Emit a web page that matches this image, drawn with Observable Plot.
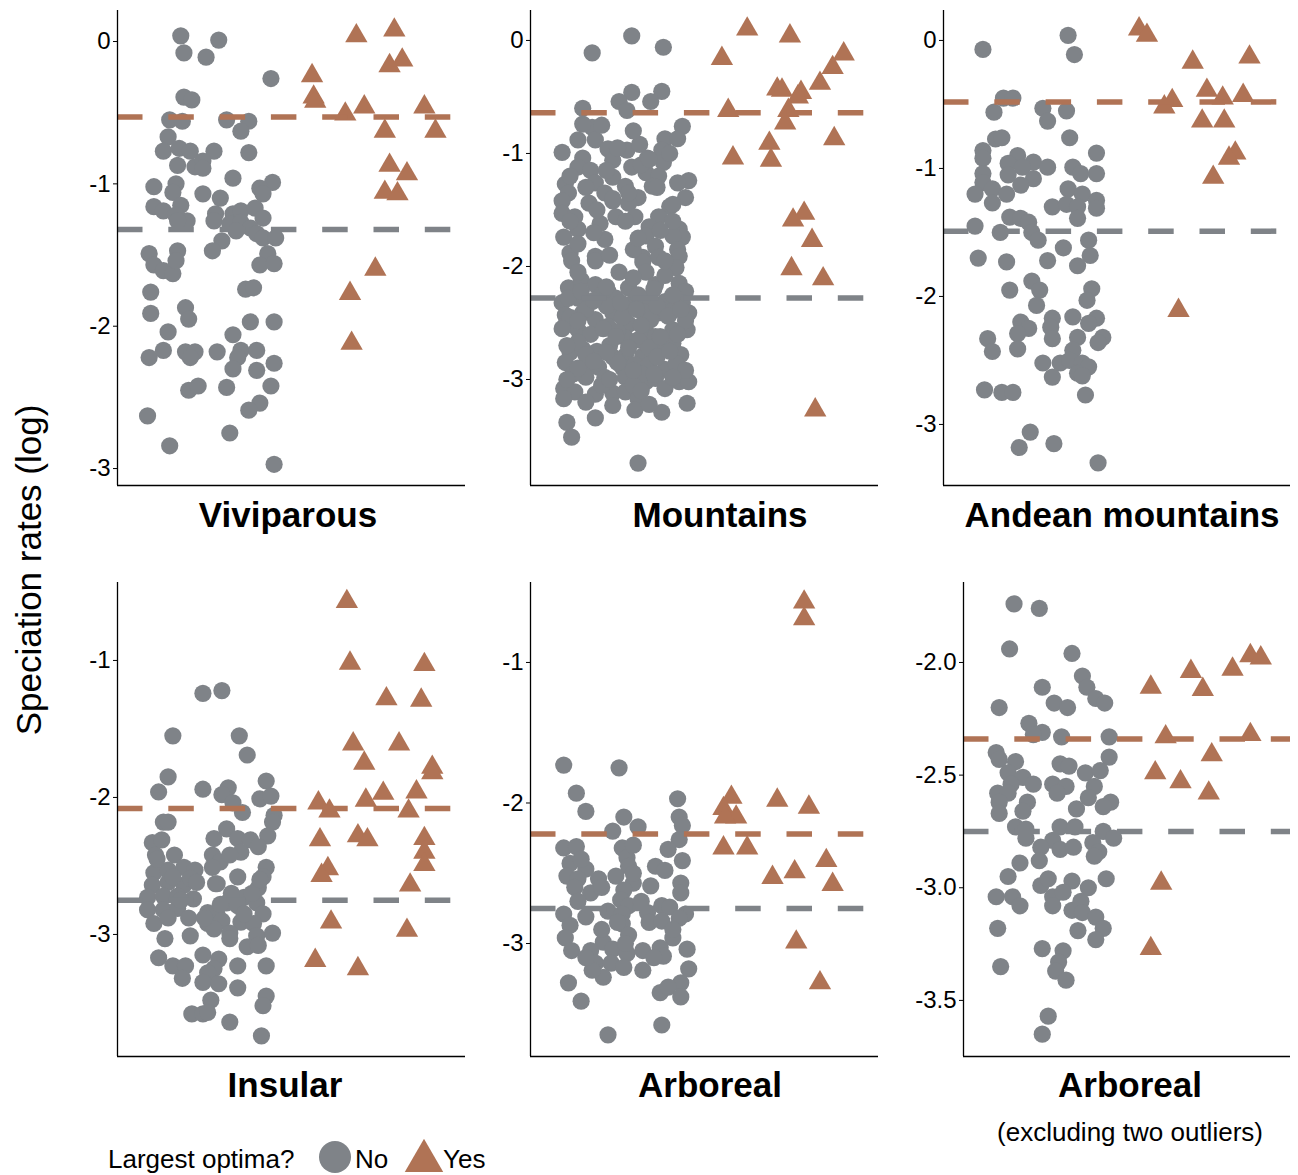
<!DOCTYPE html>
<html><head><meta charset="utf-8">
<script src="https://cdn.jsdelivr.net/npm/d3@7"></script>
<script src="https://cdn.jsdelivr.net/npm/@observablehq/plot@0.6"></script>
<style>
body{margin:0;background:#fff;font-family:"Liberation Sans",Arial,Helvetica,sans-serif;}
#root{position:relative;width:1298px;height:1175px;overflow:hidden;background:#fff;}
.panel{position:absolute;}
.title{position:absolute;font-weight:bold;font-size:35px;line-height:1;transform:translate(-50%,-50%);white-space:nowrap;color:#000;}
.sub{position:absolute;font-size:26px;line-height:1;transform:translate(-50%,-50%);white-space:nowrap;color:#000;}
.ylab{position:absolute;font-size:35px;line-height:1;white-space:nowrap;transform:translate(-50%,-50%) rotate(-90deg);color:#000;}
.leg{position:absolute;font-size:26px;line-height:1;white-space:nowrap;transform:translateY(-50%);color:#000;}
</style></head><body><div id="root"></div>
<script>
// ---------- data: [jitter offset within group, log speciation rate] ----------
const vivNo = [[-0.20,0.04],[0.04,0.01],[-0.18,-0.08],[-0.04,-0.11],[0.37,-0.26],[-0.18,-0.39],[-0.13,-0.41],[-0.27,-0.55],[-0.19,-0.56],[0.09,-0.55],[0.23,-0.56],[0.18,-0.63],[-0.28,-0.67],[-0.31,-0.77],[-0.21,-0.75],[-0.14,-0.77],[0.01,-0.77],[0.23,-0.78],[-0.22,-0.87],[-0.11,-0.88],[-0.06,-0.84],[-0.06,-0.89],[0.13,-0.96],[-0.37,-1.02],[-0.23,-1.00],[-0.25,-1.06],[-0.06,-1.07],[0.05,-1.10],[0.38,-0.99],[0.30,-1.03],[0.32,-1.07],[-0.37,-1.16],[-0.31,-1.19],[-0.20,-1.15],[-0.23,-1.22],[-0.16,-1.26],[-0.22,-1.26],[0.02,-1.21],[0.01,-1.26],[0.13,-1.21],[0.18,-1.19],[0.27,-1.17],[0.32,-1.24],[0.11,-1.28],[0.18,-1.27],[0.24,-1.31],[0.15,-1.33],[0.06,-1.40],[0.28,-1.35],[0.32,-1.38],[0.40,-1.38],[0.00,-1.47],[-0.40,-1.49],[-0.37,-1.57],[-0.31,-1.61],[-0.25,-1.63],[-0.22,-1.47],[-0.23,-1.54],[0.35,-1.49],[0.30,-1.57],[0.39,-1.56],[0.21,-1.74],[0.26,-1.73],[-0.39,-1.76],[-0.39,-1.91],[-0.17,-1.87],[-0.15,-1.95],[0.24,-1.97],[0.39,-1.97],[-0.28,-2.04],[0.13,-2.06],[-0.40,-2.22],[-0.31,-2.17],[-0.17,-2.18],[-0.11,-2.18],[-0.14,-2.22],[0.03,-2.18],[0.18,-2.17],[0.16,-2.22],[0.28,-2.17],[0.39,-2.26],[0.13,-2.30],[0.28,-2.31],[-0.15,-2.45],[-0.09,-2.42],[0.09,-2.43],[0.37,-2.42],[0.30,-2.54],[0.23,-2.59],[-0.41,-2.63],[0.11,-2.75],[-0.27,-2.84],[0.39,-2.97]];
const vivYes = [[-0.09,0.04],[0.15,0.08],[0.12,-0.17],[0.20,-0.13],[-0.37,-0.24],[-0.36,-0.39],[-0.35,-0.42],[-0.16,-0.51],[-0.04,-0.46],[0.34,-0.46],[0.09,-0.63],[0.41,-0.63],[0.12,-0.87],[0.23,-0.93],[0.09,-1.06],[0.17,-1.07],[0.03,-1.60],[-0.13,-1.77],[-0.12,-2.12]];
const vivMeans = [-1.32, -0.53];

const mtnNo = [[0.04,0.04],[-0.21,-0.11],[0.24,-0.06],[0.04,-0.46],[0.23,-0.45],[-0.04,-0.54],[0.01,-0.62],[0.16,-0.54],[-0.27,-0.60],[0.36,-0.76],[-0.21,-0.77],[-0.27,-0.74],[0.25,-0.87],[0.33,-0.87],[-0.30,-0.88],[-0.40,-0.99],[-0.19,-0.88],[-0.11,-0.96],[0.01,-0.97],[0.09,-0.92],[0.14,-1.04],[0.23,-0.97],[-0.27,-1.04],[-0.08,-1.06],[0.04,-1.12],[0.24,-1.08],[-0.30,-1.12],[-0.22,-1.15],[-0.08,-1.21],[0.13,-1.17],[0.21,-1.20],[0.40,-1.24],[0.33,-1.26],[-0.38,-1.27],[-0.19,-1.26],[0.00,-1.29],[0.17,-1.29],[-0.36,-1.35],[-0.13,-1.35],[0.08,-1.39],[0.38,-1.39],[-0.40,-1.42],[-0.23,-1.44],[-0.08,-1.42],[0.02,-1.44],[0.28,-1.47],[-0.40,-1.53],[-0.32,-1.56],[-0.16,-1.62],[-0.06,-1.56],[0.06,-1.56],[0.21,-1.56],[0.15,-1.65],[-0.30,-1.67],[-0.39,-1.74],[-0.13,-1.76],[0.13,-1.73],[0.34,-1.67],[0.36,-1.74],[0.30,-1.73],[-0.35,-1.88],[-0.19,-1.91],[0.11,-1.92],[0.19,-1.82],[0.33,-1.85],[0.34,-1.91],
[-0.34,-1.95],[-0.19,-1.95],[0.11,-1.96],[0.21,-1.92],[0.32,-2.01],[-0.04,-2.05],[0.13,-2.05],[-0.36,-2.19],[-0.28,-2.12],[-0.19,-2.16],[-0.11,-2.22],[0.02,-2.19],[0.19,-2.16],[0.34,-2.15],[0.38,-2.22],[-0.40,-2.32],[-0.30,-2.28],[-0.21,-2.31],[-0.06,-2.28],[0.06,-2.30],[0.15,-2.28],[0.25,-2.31],[0.36,-2.32],[-0.38,-2.43],[-0.27,-2.41],[-0.19,-2.47],[-0.08,-2.41],[0.00,-2.40],[0.11,-2.40],[0.21,-2.41],[0.30,-2.39],[0.40,-2.41],[-0.38,-2.52],[-0.30,-2.56],[-0.11,-2.53],[0.02,-2.51],[0.13,-2.58],[0.19,-2.62],[0.30,-2.56],[0.39,-2.56],[0.00,-2.63],[0.08,-2.65],[-0.35,-2.76],[-0.27,-2.73],[-0.18,-2.75],[-0.08,-2.80],[0.00,-2.79],[0.11,-2.79],[0.23,-2.72],[-0.25,-2.88],[-0.17,-2.89],[-0.02,-2.89],[0.06,-2.87],[0.15,-2.87],[0.25,-2.91],[-0.25,-2.98],[-0.13,-2.98],[0.00,-2.98],[0.13,-3.02],[0.19,-2.99],[0.34,-3.02],[0.40,-3.02],[-0.39,-3.08],[-0.32,-3.11],[-0.19,-3.13],[-0.08,-3.12],[0.00,-3.11],[0.08,-3.17],[-0.39,-3.17],[-0.08,-3.23],[0.06,-3.27],[0.23,-3.29],[0.39,-3.21],[-0.19,-3.34],[-0.37,-3.38],[-0.34,-3.51],[0.08,-3.74],
[-0.30,-2.05],[0.05,-2.10],[0.25,-2.08],[-0.15,-2.25],[0.08,-2.25],[0.30,-2.25],[-0.35,-2.45],[-0.02,-2.45],[0.16,-2.47],[-0.22,-2.60],[-0.05,-2.58],[0.30,-2.68],[-0.30,-2.67],[0.15,-2.72],[-0.10,-2.70],[0.35,-2.78],[-0.38,-2.85],[-0.05,-2.85],[0.32,-2.86],[-0.33,-2.95],[0.10,-2.95],[-0.15,-3.05],[0.25,-3.08],[0.05,-3.05],[-0.25,-3.20],[0.15,-3.22],[-0.12,-2.35],[0.20,-2.35],[-0.25,-2.38],[0.38,-2.48],[-0.18,-1.50],[0.00,-1.60],[0.30,-1.60],[-0.25,-1.30],[0.10,-1.10],[-0.05,-0.95],[0.05,-0.80],[-0.15,-0.75],[0.28,-1.00],[-0.35,-1.60],[0.05,-1.85],[-0.10,-1.90],[0.25,-1.95],
[-0.36,-2.28],[-0.28,-2.22],[-0.20,-2.30],[-0.12,-2.18],[-0.03,-2.32],[0.07,-2.38],[0.18,-2.20],[0.27,-2.44],[0.35,-2.38],[-0.40,-2.55],[-0.30,-2.48],[-0.14,-2.55],[-0.06,-2.62],[0.10,-2.52],[0.22,-2.62],[0.33,-2.60],[-0.37,-2.70],[-0.25,-2.78],[-0.12,-2.76],[0.02,-2.72],[0.20,-2.80],[0.28,-2.75],[-0.30,-2.90],[-0.20,-2.84],[0.05,-2.92],[0.18,-2.95],[0.38,-2.92],[-0.37,-3.00],[-0.10,-3.00],[0.10,-3.10],[0.30,-2.98],[-0.30,-1.80],[-0.20,-1.70],[0.08,-1.75],[0.22,-1.68],[-0.08,-1.40],[0.20,-1.30],[-0.35,-1.20],[0.02,-1.35],[0.30,-1.45],[-0.12,-1.15],[0.15,-1.05]];
const mtnYes = [[-0.23,0.10],[0.04,0.04],[-0.39,-0.16],[0.38,-0.12],[0.31,-0.24],[0.23,-0.38],[-0.04,-0.43],[-0.01,-0.44],[0.11,-0.46],[0.09,-0.50],[0.03,-0.62],[-0.35,-0.62],[0.01,-0.73],[0.32,-0.87],[-0.09,-0.91],[-0.32,-1.04],[-0.08,-1.06],[0.13,-1.53],[0.06,-1.59],[0.18,-1.77],[0.05,-2.02],[0.25,-2.11],[0.20,-3.27]];
const mtnMeans = [-2.28, -0.64];

const andNo = [[0.19,0.04],[-0.35,-0.07],[0.23,-0.11],[-0.22,-0.45],[-0.16,-0.45],[-0.28,-0.56],[0.03,-0.53],[0.06,-0.63],[0.18,-0.55],[-0.27,-0.77],[-0.23,-0.76],[0.20,-0.76],[-0.35,-0.86],[-0.35,-0.92],[-0.13,-0.90],[-0.19,-0.96],[-0.03,-0.95],[0.06,-0.99],[-0.10,-0.99],[0.37,-0.88],[-0.35,-1.04],[-0.19,-1.05],[-0.03,-1.08],[0.22,-0.99],[0.27,-1.04],[0.37,-1.04],[-0.35,-1.11],[-0.11,-1.13],[-0.40,-1.20],[-0.29,-1.16],[-0.20,-1.20],[0.19,-1.16],[0.28,-1.20],[0.37,-1.25],[-0.29,-1.27],[0.09,-1.30],[0.18,-1.28],[0.25,-1.30],[0.37,-1.31],[0.25,-1.39],[-0.18,-1.38],[-0.11,-1.39],[-0.06,-1.42],[-0.40,-1.45],[-0.24,-1.50],[-0.04,-1.50],[0.00,-1.56],[0.16,-1.62],[0.32,-1.56],[0.33,-1.68],[-0.38,-1.70],[-0.20,-1.73],[0.06,-1.72],[0.25,-1.76],[-0.04,-1.88],[0.01,-1.95],[-0.18,-1.95],[0.34,-1.94],[0.31,-2.03],[-0.01,-2.07],[-0.11,-2.20],[0.09,-2.17],[0.22,-2.16],[0.37,-2.17],[-0.06,-2.25],[0.08,-2.24],[0.32,-2.21],[-0.13,-2.29],[0.09,-2.33],[0.25,-2.32],[0.41,-2.32],[-0.32,-2.33],[0.38,-2.36],[-0.29,-2.43],[-0.13,-2.41],[0.22,-2.42],[0.03,-2.52],[0.14,-2.52],[0.20,-2.50],[0.28,-2.52],[0.32,-2.55],[0.25,-2.60],[0.28,-2.62],[0.09,-2.63],[-0.34,-2.73],[-0.23,-2.75],[-0.16,-2.75],[0.30,-2.77],[-0.05,-3.06],[-0.12,-3.18],[0.10,-3.15],[0.38,-3.30]];
const andYes = [[-0.36,0.09],[-0.31,0.04],[-0.02,-0.17],[0.34,-0.13],[0.07,-0.39],[0.17,-0.45],[0.30,-0.43],[-0.15,-0.47],[-0.20,-0.52],[0.04,-0.63],[0.18,-0.63],[0.25,-0.88],[0.21,-0.92],[0.11,-1.07],[-0.11,-2.11]];
const andMeans = [-1.49, -0.48];

const insNo = [[-0.06,-1.24],[0.06,-1.22],[-0.25,-1.55],[0.17,-1.55],[0.22,-1.69],[-0.28,-1.85],[-0.34,-1.96],[-0.06,-1.94],[0.10,-1.93],[0.06,-1.98],[0.34,-1.88],[0.30,-2.01],[0.37,-1.99],[0.13,-2.04],[0.19,-2.11],[0.39,-2.13],[-0.31,-2.18],[-0.28,-2.18],[0.38,-2.18],[0.09,-2.23],[-0.38,-2.33],[-0.32,-2.31],[0.01,-2.30],[0.35,-2.28],[0.16,-2.30],[0.24,-2.31],[0.29,-2.36],[-0.36,-2.42],[-0.24,-2.42],[0.00,-2.42],[0.18,-2.40],[0.05,-2.47],[0.11,-2.42],[0.34,-2.51],[-0.37,-2.55],[-0.28,-2.53],[-0.18,-2.51],[-0.11,-2.53],[0.00,-2.51],[0.02,-2.63],[0.32,-2.58],[0.16,-2.58],[0.29,-2.66],[-0.38,-2.64],[-0.28,-2.62],[-0.18,-2.64],[-0.14,-2.59],[0.03,-2.63],[-0.41,-2.73],[-0.31,-2.72],[-0.22,-2.72],[-0.12,-2.74],[0.09,-2.77],[0.20,-2.73],[0.28,-2.77],[0.16,-2.79],[-0.41,-2.82],[-0.31,-2.82],[-0.22,-2.81],[-0.03,-2.84],[0.03,-2.86],[0.32,-2.85],[-0.37,-2.92],[-0.28,-2.88],[-0.15,-2.88],[-0.03,-2.92],[0.06,-2.90],[0.18,-2.91],[0.26,-2.92],[0.01,-2.96],[0.11,-2.99],[-0.30,-3.03],[-0.14,-3.01],[0.11,-3.03],[0.28,-3.01],[0.38,-2.99],[0.22,-3.09],[0.29,-3.08],[-0.34,-3.17],[-0.06,-3.15],[0.04,-3.18],[-0.25,-3.23],[-0.17,-3.23],[0.16,-3.23],[0.34,-3.23],[0.01,-3.25],[-0.03,-3.28],[-0.19,-3.32],[-0.06,-3.35],[0.04,-3.36],[0.16,-3.39],[0.34,-3.45],[-0.01,-3.48],[0.32,-3.52],[-0.13,-3.58],[-0.06,-3.58],[-0.03,-3.57],[0.11,-3.64],[0.31,-3.74],
[-0.35,-2.45],[-0.25,-2.58],[-0.20,-2.75],[-0.10,-2.62],[0.05,-2.78],[0.25,-2.70],[0.30,-2.60],[0.12,-2.70],[-0.05,-2.88],[0.20,-2.85]];
const insYes = [[-0.15,-0.57],[-0.13,-1.02],[0.34,-1.03],[0.10,-1.28],[0.32,-1.29],[-0.11,-1.61],[0.18,-1.61],[-0.04,-1.75],[0.39,-1.78],[0.39,-1.82],[0.08,-1.97],[0.29,-1.96],[-0.33,-2.04],[-0.03,-2.02],[-0.26,-2.10],[0.24,-2.10],[-0.32,-2.31],[-0.08,-2.28],[-0.02,-2.31],[0.34,-2.30],[0.34,-2.40],[0.34,-2.49],[-0.27,-2.52],[-0.31,-2.57],[0.25,-2.64],[-0.25,-2.91],[0.23,-2.97],[-0.35,-3.19],[-0.08,-3.25]];
const insMeans = [-2.75, -2.08];

const arbNo = [[-0.39,-1.73],[-0.04,-1.75],[-0.31,-1.93],[0.33,-1.97],[-0.25,-2.06],[-0.01,-2.10],[0.34,-2.10],[0.08,-2.17],[-0.08,-2.20],[0.36,-2.16],[0.34,-2.26],[-0.39,-2.32],[-0.31,-2.31],[-0.02,-2.32],[0.27,-2.33],[0.01,-2.39],[0.36,-2.41],[-0.35,-2.43],[-0.25,-2.47],[0.02,-2.45],[0.19,-2.45],[0.25,-2.48],[-0.37,-2.52],[-0.30,-2.54],[-0.17,-2.54],[-0.06,-2.52],[0.05,-2.57],[0.35,-2.57],[-0.32,-2.60],[-0.22,-2.64],[-0.01,-2.62],[0.16,-2.59],[0.35,-2.64],[-0.03,-2.69],[0.02,-2.73],[-0.11,-2.77],[0.23,-2.73],[0.28,-2.74],[-0.39,-2.79],[-0.25,-2.81],[-0.02,-2.79],[0.14,-2.78],[0.38,-2.79],[-0.35,-2.87],[-0.02,-2.86],[0.15,-2.85],[0.23,-2.84],[0.34,-2.82],[-0.38,-2.96],[0.02,-2.94],[0.30,-2.96],[-0.14,-2.99],[-0.34,-3.05],[-0.22,-3.05],[-0.08,-3.04],[0.01,-3.07],[0.11,-3.05],[0.22,-3.03],[0.24,-3.09],[0.39,-3.04],[-0.19,-3.14],[-0.09,-3.14],[-0.01,-3.17],[0.11,-3.19],[0.40,-3.18],[-0.14,-3.24],[-0.21,-3.19],[-0.36,-3.28],[0.35,-3.28],[0.22,-3.35],[0.27,-3.31],[0.35,-3.38],[-0.28,-3.41],[0.23,-3.58],[-0.11,-3.65],
[-0.28,-2.40],[-0.15,-2.60],[0.05,-2.50],[0.10,-2.70],[-0.05,-2.85],[0.00,-3.00],[-0.15,-2.90],[0.30,-2.90],[-0.30,-2.70],[0.18,-3.10],[-0.25,-3.10],[0.05,-2.30]];
const arbYes = [[0.13,-0.57],[0.13,-0.69],[-0.33,-1.96],[-0.38,-2.04],[-0.30,-2.10],[-0.37,-2.10],[-0.04,-1.98],[0.16,-2.03],[-0.38,-2.32],[-0.23,-2.32],[0.27,-2.41],[0.07,-2.49],[-0.07,-2.53],[0.31,-2.58],[0.08,-2.99],[0.23,-3.28]];
const arbMeans = [-2.75, -2.22];

const arb2No = [[-0.26,-1.74],[-0.09,-1.76],[-0.29,-1.94],[0.13,-1.96],[0.20,-2.06],[0.23,-2.11],[-0.07,-2.11],[-0.36,-2.20],[0.01,-2.18],[0.10,-2.20],[0.29,-2.16],[0.35,-2.18],[-0.16,-2.27],[-0.07,-2.31],[-0.13,-2.32],[0.06,-2.33],[0.38,-2.33],[-0.38,-2.40],[-0.36,-2.43],[-0.25,-2.44],[0.38,-2.42],[0.05,-2.45],[0.11,-2.46],[0.22,-2.49],[0.32,-2.48],[-0.30,-2.49],[-0.20,-2.51],[-0.13,-2.54],[-0.28,-2.54],[0.00,-2.54],[0.09,-2.55],[0.28,-2.55],[-0.37,-2.58],[-0.30,-2.58],[0.03,-2.58],[0.24,-2.60],[-0.36,-2.62],[-0.17,-2.62],[0.39,-2.62],[0.34,-2.64],[-0.20,-2.66],[-0.36,-2.67],[0.16,-2.65],[-0.25,-2.73],[-0.18,-2.74],[0.05,-2.73],[0.15,-2.73],[0.34,-2.75],[-0.18,-2.78],[0.00,-2.79],[-0.08,-2.82],[0.05,-2.83],[0.14,-2.82],[0.27,-2.80],[0.31,-2.84],[0.41,-2.78],[-0.09,-2.88],[0.28,-2.86],[-0.22,-2.89],[-0.30,-2.95],[0.36,-2.96],[-0.08,-2.99],[-0.03,-2.96],[0.13,-2.97],[0.24,-3.00],[-0.38,-3.04],[-0.27,-3.04],[-0.22,-3.08],[0.00,-3.04],[0.07,-3.02],[0.00,-3.08],[0.13,-3.10],[0.19,-3.06],[0.20,-3.11],[0.29,-3.13],[0.34,-3.18],[-0.37,-3.18],[0.17,-3.19],[0.29,-3.23],[-0.07,-3.27],[0.07,-3.28],[0.04,-3.33],[0.02,-3.37],[0.09,-3.41],[-0.35,-3.35],[-0.03,-3.57],[-0.07,-3.65]];
const arb2Yes = [[-0.34,-2.11],[-0.07,-2.04],[0.01,-2.12],[0.21,-2.03],[0.33,-1.97],[0.40,-1.98],[0.33,-2.32],[-0.24,-2.33],[-0.31,-2.49],[-0.14,-2.53],[0.07,-2.41],[0.05,-2.58],[-0.27,-2.98],[-0.34,-3.27]];
const arb2Means = [-2.75, -2.34];

const ticks01 = [0, -1, -2, -3];
const tickLabels01 = ["0", "-1", "-2", "-3"];
const ticks45 = [-1, -2, -3];
const tickLabels45 = ["-1", "-2", "-3"];
const ticks6 = [-2, -2.5, -3, -3.5];
const tickLabels6 = ["-2.0", "-2.5", "-3.0", "-3.5"];

const titles = ["Viviparous", "Mountains", "Andean mountains", "Insular", "Arboreal", "Arboreal"];
const subtitle6 = "(excluding two outliers)";
const groupNames = ["No", "Yes"];
const legendTitle = "Largest optima?";
const yTitle = "Speciation rates (log)";

// ---------- styling / layout ----------
const GRAY = "#7f8388", ORANGE = "#b07355";
const panels = [
  {no: vivNo, yes: vivYes, means: vivMeans, ticks: ticks01, labels: tickLabels01, frame: [117, 465, 10, 485], domain: [-3.119, 0.218], title: titles[0], tx: 288, ty: 514},
  {no: mtnNo, yes: mtnYes, means: mtnMeans, ticks: ticks01, labels: tickLabels01, frame: [530, 878, 10, 485], domain: [-3.938, 0.265], title: titles[1], tx: 720, ty: 514},
  {no: andNo, yes: andYes, means: andMeans, ticks: ticks01, labels: tickLabels01, frame: [943, 1290, 10, 485], domain: [-3.477, 0.234], title: titles[2], tx: 1122, ty: 514},
  {no: insNo, yes: insYes, means: insMeans, ticks: ticks45, labels: tickLabels45, frame: [117, 465, 582, 1056], domain: [-3.891, -0.431], title: titles[3], tx: 285, ty: 1084},
  {no: arbNo, yes: arbYes, means: arbMeans, ticks: ticks45, labels: tickLabels45, frame: [530, 878, 582, 1056], domain: [-3.804, -0.431], title: titles[4], tx: 710, ty: 1084},
  {no: arb2No, yes: arb2Yes, means: arb2Means, ticks: ticks6, labels: tickLabels6, frame: [963, 1290, 582, 1056], domain: [-3.749, -1.645], title: titles[5], tx: 1130, ty: 1084}
];

const root = document.getElementById("root");
const ML = 70, MR = 8, MT = 12, MB = 12;

for (const p of panels) {
  const [l, r, t, b] = p.frame;
  const chart = Plot.plot({
    width: ML + (r - l) + MR,
    height: MT + (b - t) + MB,
    marginLeft: ML, marginRight: MR, marginTop: MT, marginBottom: MB,
    style: {fontFamily: "'Liberation Sans', Arial, Helvetica, sans-serif", fontSize: "24px", color: "#000", background: "transparent", overflow: "visible"},
    x: {domain: [0.4, 2.6], axis: null},
    y: {domain: p.domain, axis: null},
    marks: [
      Plot.dot(p.no, {x: d => 1 + d[0], y: d => d[1], r: 8.6, fill: GRAY, stroke: "none"}),
      Plot.dot(p.yes, {x: d => 2 + d[0], y: d => d[1], r: 8.3, symbol: "triangle", fill: ORANGE, stroke: "none"}),
      Plot.ruleY([p.means[0]], {stroke: GRAY, strokeWidth: 5.5, strokeDasharray: "25.5,25.8"}),
      Plot.ruleY([p.means[1]], {stroke: ORANGE, strokeWidth: 5.5, strokeDasharray: "25.5,25.8"}),
      Plot.ruleX([0.4], {stroke: "#000", strokeWidth: 1.3}),
      Plot.ruleY([p.domain[0]], {stroke: "#000", strokeWidth: 1.3}),
      Plot.axisY(p.ticks, {tickFormat: (d) => p.labels[p.ticks.indexOf(d)], tickSize: 4, tickPadding: 3, fontSize: 24, label: null, stroke: "#000"})
    ]
  });
  chart.classList.add("panel");
  chart.style.left = (l - ML) + "px";
  chart.style.top = (t - MT) + "px";
  root.appendChild(chart);

  const title = document.createElement("div");
  title.className = "title";
  title.textContent = p.title;
  title.style.left = p.tx + "px";
  title.style.top = p.ty + "px";
  root.appendChild(title);
}

const sub = document.createElement("div");
sub.className = "sub";
sub.textContent = subtitle6;
sub.style.left = "1130px";
sub.style.top = "1132px";
root.appendChild(sub);

const yl = document.createElement("div");
yl.className = "ylab";
yl.textContent = yTitle;
yl.style.left = "28px";
yl.style.top = "570px";
root.appendChild(yl);

// legend
const lt = document.createElement("div");
lt.className = "leg"; lt.textContent = legendTitle;
lt.style.left = "108px"; lt.style.top = "1159px";
root.appendChild(lt);

const legCircle = d3.create("svg").attr("width", 36).attr("height", 36)
  .style("position", "absolute").style("left", "317px").style("top", "1139px");
legCircle.append("circle").attr("cx", 18).attr("cy", 18).attr("r", 16).attr("fill", GRAY);
root.appendChild(legCircle.node());

const legTri = d3.create("svg").attr("width", 42).attr("height", 36)
  .style("position", "absolute").style("left", "403px").style("top", "1139px");
legTri.append("path").attr("d", d3.symbol(d3.symbolTriangle, 640)()).attr("transform", "translate(21,22)").attr("fill", ORANGE);
root.appendChild(legTri.node());

const ln = document.createElement("div");
ln.className = "leg"; ln.textContent = groupNames[0];
ln.style.left = "355px"; ln.style.top = "1159px";
root.appendChild(ln);
const ly = document.createElement("div");
ly.className = "leg"; ly.textContent = groupNames[1];
ly.style.left = "443px"; ly.style.top = "1159px";
root.appendChild(ly);
</script></body></html>
